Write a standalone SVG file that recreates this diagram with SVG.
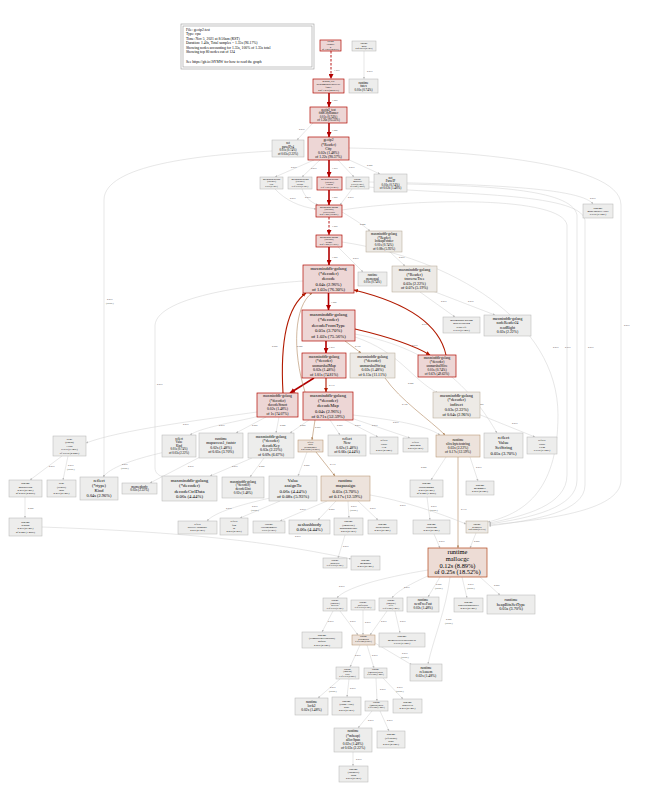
<svg xmlns="http://www.w3.org/2000/svg" width="650" height="792" viewBox="0 0 650 792">
<style>
text{font-family:"Liberation Serif","Times New Roman",serif;fill:#000;text-anchor:middle}
.hd text,.hd{text-anchor:start}
.r{fill:#edd6d5;stroke:#b20a00;stroke-width:0.7}
.o{fill:#eddcd5;stroke:#b2461a;stroke-width:0.7}
.t{fill:#ede3dc;stroke:#b28c66;stroke-width:0.5}
.u{fill:#edeae6;stroke:#b2a58f;stroke-width:0.5}
.g{fill:#ededec;stroke:#b4b4b2;stroke-width:0.5}
.eh{stroke:#b20000;stroke-width:1.6;fill:none}
.er{stroke:#b21a00;stroke-width:1.1;fill:none}
.et{stroke:#b2885f;stroke-width:0.6;fill:none}
.eg{stroke:#c9c9c9;stroke-width:0.45;fill:none}
.d{stroke-dasharray:2.5,1.5;stroke-width:0.9}
.l{font-size:2.6px;fill:#555;text-anchor:start}
</style>
<defs>
<marker id="ah" viewBox="0 0 10 10" refX="10" refY="5" markerUnits="userSpaceOnUse" markerWidth="5" markerHeight="5" orient="auto"><path d="M0,0L10,5L0,10z" fill="#b20000"/></marker>
<marker id="ar" viewBox="0 0 10 10" refX="10" refY="5" markerUnits="userSpaceOnUse" markerWidth="4" markerHeight="4" orient="auto"><path d="M0,0L10,5L0,10z" fill="#b21a00"/></marker>
<marker id="at" viewBox="0 0 10 10" refX="10" refY="5" markerUnits="userSpaceOnUse" markerWidth="2.6" markerHeight="2.6" orient="auto"><path d="M0,0L10,5L0,10z" fill="#b2885f"/></marker>
<marker id="ag" viewBox="0 0 10 10" refX="10" refY="5" markerUnits="userSpaceOnUse" markerWidth="2.2" markerHeight="2.2" orient="auto"><path d="M0,0L10,5L0,10z" fill="#bbbbbb"/></marker>
</defs>
<rect width="650" height="792" fill="#fff"/>

<g id="legend" class="hd">
<rect x="181" y="24" width="133" height="45" fill="#fff" stroke="#9a9a9a" stroke-width="0.6"/>
<rect x="183" y="26" width="129" height="41" fill="none" stroke="#9a9a9a" stroke-width="0.6"/>
<text font-size="3.7" style="text-anchor:start"><tspan x="186" y="30.5">File: geoip2.test</tspan><tspan x="186" y="35">Type: cpu</tspan><tspan x="186" y="39.6">Time: Nov 5, 2021 at 8:50am (KST)</tspan><tspan x="186" y="44.2">Duration: 1.40s, Total samples = 1.35s (96.17%)</tspan><tspan x="186" y="48.8">Showing nodes accounting for 1.35s, 100% of 1.35s total</tspan><tspan x="186" y="53.4">Showing top 80 nodes out of 124</tspan><tspan x="186" y="62.6">See https://git.io/JfYMW for how to read the graph</tspan></text>
</g>

<g id="connectors">
<path class="eh d" d="M331,51L331,79" marker-end="url(#ah)"/><text class="l" x="334" y="71">1.27s</text>
<path class="eg" d="M364,51L364,79" marker-end="url(#ag)"/><text class="l" x="367" y="72">0.01s</text>
<path class="eh" d="M329,93L329,107" marker-end="url(#ah)"/><text class="l" x="332" y="101">1.26s</text>
<path class="eh" d="M329,123L329,137" marker-end="url(#ah)"/><text class="l" x="332" y="131">1.22s</text>
<path class="eg" d="M313,123L297,140" marker-end="url(#ag)"/><text class="l" x="299" y="130">0.03s</text>
<path class="eg" d="M314,160L275,177" marker-end="url(#ag)"/><text class="l" x="291" y="168">0.01s</text>
<path class="eg" d="M320,160L302,177" marker-end="url(#ag)"/><text class="l" x="311" y="169">0.01s</text>
<path class="eh" d="M329,160L329,177" marker-end="url(#ah)"/><text class="l" x="332" y="169">1.07s</text>
<path class="eg" d="M338,160L354,177" marker-end="url(#ag)"/><text class="l" x="349" y="168">0.01s</text>
<path class="eg" d="M345,158L380,174" marker-end="url(#ag)"/><text class="l" x="367" y="166">0.02s</text>
<path class="eg" d="M349,148C450,150 621,160 621,205L621,480C621,512 540,520 489,525" marker-end="url(#ag)"/><text class="l" x="624" y="326">0.01s</text>
<path class="eg" d="M407,184C480,186 572,188 577,215L577,480C577,508 530,518 489,524" marker-end="url(#ag)"/><text class="l" x="565" y="348">0.01s</text>
<path class="eg" d="M369,187C450,195 580,192 585,220L585,485C585,512 535,520 489,526" marker-end="url(#ag)"/><text class="l" x="588" y="348">0.01s</text>
<path class="eg" d="M369,182C460,184 580,186 593,204" marker-end="url(#ag)"/><text class="l" x="590" y="199">0.01s</text>
<path class="eg" d="M342,210C420,198 562,196 567,225L567,475C567,505 525,516 489,523" marker-end="url(#ag)"/><text class="l" x="553" y="348">0.01s</text>
<path class="eg" d="M342,242C450,258 558,320 558,415C558,495 520,514 488,522" marker-end="url(#ag)"/>
<path class="eg" d="M275,189C285,200 300,207 316,209" marker-end="url(#ag)"/><text class="l" x="290" y="199">0.01s</text>
<path class="eg" d="M302,189C305,197 310,202 318,205" marker-end="url(#ag)"/><text class="l" x="305" y="198">0.01s</text>
<path class="eh" d="M329,190L329,205" marker-end="url(#ah)"/><text class="l" x="332" y="198">1.05s</text>
<path class="eg" d="M352,189L340,205" marker-end="url(#ag)"/><text class="l" x="348" y="198">0.01s</text>
<path class="eh d" d="M329,217L329,235" marker-end="url(#ah)"/><text class="l" x="332" y="227">1.05s</text>
<path class="eg" d="M342,212C352,218 362,224 370,231" marker-end="url(#ag)"/><text class="l" x="360" y="225">0.04s</text>
<path class="eh" d="M329,247L329,265" marker-end="url(#ah)"/><text class="l" x="332" y="258">1.05s</text>
<path class="eg" d="M338,247L363,272" marker-end="url(#ag)"/><text class="l" x="353" y="259">0.01s</text>
<path class="eg" d="M390,252L405,266" marker-end="url(#ag)"/><text class="l" x="399" y="258">0.07s</text>
<path class="eg" d="M420,292L455,317" marker-end="url(#ag)"/><text class="l" x="441" y="302">0.01s</text>
<path class="eg" d="M430,290L495,315" marker-end="url(#ag)"/><text class="l" x="468" y="302">0.03s</text>
<path class="eh" d="M328.5,293L328.5,310" marker-end="url(#ah)"/><text class="l" x="331" y="303">1.02s</text>
<path class="eh" d="M326,341L326,353" marker-end="url(#ah)"/><text class="l" x="329" y="348">1.01s</text>
<path class="et" d="M345,341L361,353" marker-end="url(#at)"/><text class="l" x="355" y="347">0.15s</text>
<path class="er" d="M355,329C385,336 412,344 430,355" marker-end="url(#ar)"/><text class="l" x="412" y="346">0.67s</text>
<path class="er" d="M446,355C438,318 395,300 354,290" marker-end="url(#ar)"/><text class="l" x="422" y="325">0.67s</text>
<path class="eh" d="M314,378L290,393" marker-end="url(#ah)"/>
<path class="er" d="M326,378L326,392" marker-end="url(#ar)"/><text class="l" x="329" y="386">0.71s</text>
<path class="er" d="M283,393C280,340 288,306 306,293" marker-end="url(#ar)"/><text class="l" x="272" y="347">0.98s</text>
<path class="et" d="M305,392C292,350 294,306 312,293" marker-end="url(#at)"/><text class="l" x="297" y="347">0.20s</text>
<path class="eg" d="M303,281C260,284 158,295 155,325L155,468C155,473 159,476 164,477" marker-end="url(#ag)"/><text class="l" x="157" y="385">0.01s</text>
<path class="eg" d="M272,151C200,155 104,165 104,200L104,477" marker-end="url(#ag)"/><text class="l" x="107" y="300">0.01s</text><text class="l" x="106" y="303.5">(inline)</text>
<path class="eg" d="M257,412C200,420 120,430 86,443" marker-end="url(#ag)"/><text class="l" x="183" y="425">0.01s</text>
<path class="eg" d="M260,416C230,423 200,428 190,435" marker-end="url(#ag)"/><text class="l" x="219" y="426">0.01s</text>
<path class="eg" d="M266,417L236,433" marker-end="url(#ag)"/><text class="l" x="252" y="426">0.05s</text>
<path class="eg" d="M279,417L276,433" marker-end="url(#ag)"/><text class="l" x="280" y="426">0.04s</text>
<path class="eg" d="M309,420L290,433" marker-end="url(#ag)"/><text class="l" x="300" y="426">0.05s</text>
<path class="et" d="M315,420L312,440" marker-end="url(#at)"/><text class="l" x="315" y="428">0.25s</text>
<path class="eg" d="M330,420L340,435" marker-end="url(#ag)"/><text class="l" x="337" y="426">0.06s</text>
<path class="eg" d="M345,420L378,437" marker-end="url(#ag)"/><text class="l" x="355" y="426">0.01s</text>
<path class="eg" d="M351,418L410,438" marker-end="url(#ag)"/><text class="l" x="372" y="426">0.01s</text>
<path class="eg" d="M353,415C395,420 425,425 440,435" marker-end="url(#ag)"/><text class="l" x="393" y="423">0.01s</text>
<path class="et" d="M385,378C400,400 430,420 445,435" marker-end="url(#at)"/><text class="l" x="402" y="405">0.12s</text>
<path class="eg" d="M355,337C400,352 412,380 438,393" marker-end="url(#ag)"/><text class="l" x="408" y="384">0.04s</text>
<path class="eg" d="M355,334C440,350 475,395 497,433" marker-end="url(#ag)"/><text class="l" x="478" y="405">0.05s</text>
<path class="eg" d="M478,414L535,437" marker-end="url(#ag)"/><text class="l" x="512" y="424">0.01s</text>
<path class="eg" d="M62,456L30,480" marker-end="url(#ag)"/><text class="l" x="49" y="467">0.01s</text>
<path class="eg" d="M68,456L63,480" marker-end="url(#ag)"/><text class="l" x="68" y="466">0.01s</text><text class="l" x="67" y="469.5">(inline)</text>
<path class="eg" d="M165,452C130,460 110,468 103,477" marker-end="url(#ag)"/><text class="l" x="122" y="465">0.01s</text><text class="l" x="121" y="468.5">(inline)</text>
<path class="eg" d="M202,456L150,483" marker-end="url(#ag)"/><text class="l" x="188" y="467">0.03s</text>
<path class="eg" d="M252,458L210,476" marker-end="url(#ag)"/><text class="l" x="232" y="467">0.01s</text>
<path class="eg" d="M264,458L250,477" marker-end="url(#ag)"/><text class="l" x="259" y="467">0.02s</text>
<path class="eg" d="M307,452L298,476" marker-end="url(#ag)"/><text class="l" x="304" y="466">0.08s</text>
<path class="et" d="M316,452L335,476" marker-end="url(#at)"/><text class="l" x="330" y="465">0.17s</text>
<path class="eg" d="M446,457L431,480" marker-end="url(#ag)"/><text class="l" x="421" y="468">0.02s</text>
<path class="eg" d="M470,457L478,481" marker-end="url(#ag)"/><text class="l" x="476" y="468">0.01s</text>
<path class="et" d="M458,457L458,548" marker-end="url(#at)"/><text class="l" x="461" y="510">0.17s</text>
<path class="eg" d="M25,497L25,518" marker-end="url(#ag)"/><text class="l" x="28" y="509">0.02s</text>
<path class="eg" d="M42,527C150,531 250,537 351,559" marker-end="url(#ag)"/><text class="l" x="295" y="537">0.01s</text>
<path class="eg" d="M270,498C240,505 215,512 207,521" marker-end="url(#ag)"/><text class="l" x="226" y="509">0.01s</text>
<path class="eg" d="M280,501L240,518" marker-end="url(#ag)"/><text class="l" x="252" y="507">0.01s</text><text class="l" x="251" y="510.5">(inline)</text>
<path class="eg" d="M327,501L280,521" marker-end="url(#ag)"/><text class="l" x="300" y="510">0.01s</text>
<path class="eg" d="M336,501L318,520" marker-end="url(#ag)"/><text class="l" x="329" y="510">0.06s</text>
<path class="eg" d="M348,501L349,518" marker-end="url(#ag)"/><text class="l" x="351" y="507">0.01s</text><text class="l" x="350" y="510.5">(inline)</text>
<path class="eg" d="M358,501L378,520" marker-end="url(#ag)"/><text class="l" x="370" y="509">0.01s</text>
<path class="eg" d="M370,495C400,500 440,513 466,524" marker-end="url(#ag)"/><text class="l" x="400" y="506">0.01s</text>
<path class="eg" d="M345,535L338,558" marker-end="url(#ag)"/><text class="l" x="343" y="547">0.01s</text>
<path class="eg" d="M427,497L430,520" marker-end="url(#ag)"/><text class="l" x="431" y="507">0.01s</text><text class="l" x="430" y="510.5">(inline)</text>
<path class="eg" d="M434,534L440,548" marker-end="url(#ag)"/><text class="l" x="439" y="542">0.01s</text>
<path class="eg" d="M476,533L470,548" marker-end="url(#ag)"/><text class="l" x="474" y="542">0.08s</text>
<path class="eg" d="M440,577L428,597" marker-end="url(#ag)"/><text class="l" x="436" y="585">0.02s</text><text class="l" x="435" y="588.5">(inline)</text>
<path class="eg" d="M462,577L467,598" marker-end="url(#ag)"/><text class="l" x="468" y="585">0.01s</text><text class="l" x="467" y="588.5">(inline)</text>
<path class="eg" d="M480,577L500,595" marker-end="url(#ag)"/><text class="l" x="494" y="586">0.05s</text>
<path class="eg" d="M450,577C446,610 433,640 428,664" marker-end="url(#ag)"/><text class="l" x="446" y="620">0.02s</text><text class="l" x="445" y="623.5">(inline)</text>
<path class="eg" d="M428,570C380,578 345,588 337,598" marker-end="url(#ag)"/><text class="l" x="339" y="587">0.01s</text>
<path class="eg" d="M430,575C410,584 396,592 392,598" marker-end="url(#ag)"/><text class="l" x="404" y="588">0.01s</text>
<path class="eg" d="M333,611L322,632" marker-end="url(#ag)"/><text class="l" x="328" y="622">0.01s</text>
<path class="eg" d="M340,611L358,635" marker-end="url(#ag)"/><text class="l" x="350" y="622">0.01s</text>
<path class="eg" d="M363,610L363,635" marker-end="url(#ag)"/><text class="l" x="365" y="623">0.01s</text>
<path class="eg" d="M387,611L370,635" marker-end="url(#ag)"/><text class="l" x="381" y="622">0.01s</text>
<path class="eg" d="M395,611L400,633" marker-end="url(#ag)"/><text class="l" x="400" y="622">0.01s</text>
<path class="eg" d="M360,645L350,667" marker-end="url(#ag)"/><text class="l" x="355" y="656">0.01s</text>
<path class="eg" d="M367,645L374,668" marker-end="url(#ag)"/><text class="l" x="372" y="656">0.01s</text>
<path class="eg" d="M375,643L412,665" marker-end="url(#ag)"/><text class="l" x="402" y="654">0.01s</text><text class="l" x="401" y="657.5">(inline)</text>
<path class="eg" d="M340,679L318,698" marker-end="url(#ag)"/><text class="l" x="330" y="688">0.01s</text><text class="l" x="329" y="691.5">(inline)</text>
<path class="eg" d="M349,679L347,697" marker-end="url(#ag)"/><text class="l" x="350" y="689">0.01s</text>
<path class="eg" d="M376,678L377,701" marker-end="url(#ag)"/><text class="l" x="380" y="690">0.01s</text>
<path class="eg" d="M383,678L403,699" marker-end="url(#ag)"/><text class="l" x="397" y="688">0.01s</text><text class="l" x="396" y="691.5">(inline)</text>
<path class="eg" d="M372,711L358,728" marker-end="url(#ag)"/><text class="l" x="368" y="721">0.01s</text>
<path class="eg" d="M380,711L389,731" marker-end="url(#ag)"/><text class="l" x="387" y="721">0.01s</text>
<path class="eg" d="M353,752L353,766" marker-end="url(#ag)"/><text class="l" x="356" y="760">0.01s</text>
</g>

<g id="n_trunner"><rect class="r" x="320" y="40" width="21" height="11"/><text font-size="2.3"><tspan x="330.5" y="42.4">testing</tspan><tspan x="330.5" y="45">tRunner</tspan><tspan x="330.5" y="47.6">0</tspan><tspan x="330.5" y="50.2">of 1.27s (94.07%)</tspan></text></g>
<g id="n_main"><rect class="g" x="352" y="41" width="24" height="10"/><text font-size="2.3"><tspan x="364" y="44.2">runtime</tspan><tspan x="364" y="46.8">main</tspan><tspan x="364" y="49.4">0 of 0.01s (0.74%)</tspan></text></g>
<g id="n_bench"><rect class="r" x="313" y="79" width="31" height="14"/><text font-size="2.6"><tspan x="328.5" y="82.4">geoip2_test</tspan><tspan x="328.5" y="85.4">BenchmarkReaderCity</tspan><tspan x="328.5" y="88.4">func1</tspan><tspan x="328.5" y="91.4">0 of 1.27s (94.07%)</tspan></text></g>
<g id="n_futex"><rect class="g" x="349" y="79" width="29" height="14"/><text font-size="3.2"><tspan x="363.5" y="83.5">runtime</tspan><tspan x="363.5" y="87.1">futex</tspan><tspan x="363.5" y="90.7">0.01s (0.74%)</tspan></text></g>
<g id="n_runner"><rect class="r" x="310" y="107" width="37" height="16"/><text font-size="3.1"><tspan x="328.5" y="110.8">geoip2_test</tspan><tspan x="328.5" y="114.3">findCityRunner</tspan><tspan x="328.5" y="117.8">0.01s (0.74%)</tspan><tspan x="328.5" y="121.3">of 1.26s (93.33%)</tspan></text></g>
<g id="n_city"><rect class="r" x="308" y="137" width="41" height="23"/><text font-size="3.7"><tspan x="328.5" y="141.4">geoip2</tspan><tspan x="328.5" y="145.6">(*Reader)</tspan><tspan x="328.5" y="149.8">City</tspan><tspan x="328.5" y="154">0.02s (1.48%)</tspan><tspan x="328.5" y="158.2">of 1.22s (90.37%)</tspan></text></g>
<g id="n_ipv4"><rect class="g" x="272" y="140" width="32" height="17"/><text font-size="3"><tspan x="288" y="144.3">net</tspan><tspan x="288" y="147.8">parseIPv4</tspan><tspan x="288" y="151.3">0.01s (0.74%)</tspan><tspan x="288" y="154.8">of 0.03s (2.22%)</tspan></text></g>
<g id="n_cidr"><rect class="g" x="260" y="177" width="23" height="12"/><text font-size="2.2"><tspan x="271.5" y="179.6">maxminddb-golang</tspan><tspan x="271.5" y="182.2">(*Reader)</tspan><tspan x="271.5" y="184.8">cidr</tspan><tspan x="271.5" y="187.4">0.01s (0.74%)</tspan></text></g>
<g id="n_rdec"><rect class="g" x="288" y="177" width="24" height="12"/><text font-size="2.2"><tspan x="300" y="179.6">maxminddb-golang</tspan><tspan x="300" y="182.2">(*Reader)</tspan><tspan x="300" y="184.8">Decode</tspan><tspan x="300" y="187.4">0 of 0.01s (0.74%)</tspan></text></g>
<g id="n_lookup"><rect class="r" x="317" y="177" width="25" height="13"/><text font-size="2.2"><tspan x="329.5" y="180.1">maxminddb-golang</tspan><tspan x="329.5" y="182.7">(*Reader)</tspan><tspan x="329.5" y="185.3">Lookup</tspan><tspan x="329.5" y="187.9">0 of 1.07s (79.26%)</tspan></text></g>
<g id="n_makeslice"><rect class="g" x="346" y="177" width="23" height="12"/><text font-size="2.2"><tspan x="357.5" y="179.6">runtime</tspan><tspan x="357.5" y="182.2">makeslice</tspan><tspan x="357.5" y="184.8">0.01s (0.74%)</tspan><tspan x="357.5" y="187.4">of 0.02s (1.48%)</tspan></text></g>
<g id="n_parseip"><rect class="g" x="374" y="174" width="33" height="18"/><text font-size="3.2"><tspan x="390.5" y="178.5">net</tspan><tspan x="390.5" y="182.1">ParseIP</tspan><tspan x="390.5" y="185.7">0.01s (0.74%)</tspan><tspan x="390.5" y="189.3">of 0.02s (1.48%)</tspan></text></g>
<g id="n_retrieve"><rect class="r" x="316" y="205" width="26" height="12"/><text font-size="2.3"><tspan x="329" y="207.6">maxminddb-golang</tspan><tspan x="329" y="210.2">(*Reader)</tspan><tspan x="329" y="212.8">retrieveData</tspan><tspan x="329" y="215.4">0 of 1.06s (78.52%)</tspan></text></g>
<g id="n_rdecode"><rect class="r" x="316" y="235" width="26" height="12"/><text font-size="2.3"><tspan x="329" y="237.6">maxminddb-golang</tspan><tspan x="329" y="240.2">(*Reader)</tspan><tspan x="329" y="242.8">decode</tspan><tspan x="329" y="245.4">0 of 1.05s (77.78%)</tspan></text></g>
<g id="n_lptr"><rect class="u" x="366" y="231" width="36" height="21"/><text font-size="3.3"><tspan x="384" y="234.8">maxminddb-golang</tspan><tspan x="384" y="238.6">(*Reader)</tspan><tspan x="384" y="242.4">lookupPointer</tspan><tspan x="384" y="246.2">0.01s (0.74%)</tspan><tspan x="384" y="250">of 0.08s (5.93%)</tspan></text></g>
<g id="n_memequal"><rect class="g" x="358" y="272" width="29" height="14"/><text font-size="3.1"><tspan x="372.5" y="276.4">runtime</tspan><tspan x="372.5" y="279.9">memequal</tspan><tspan x="372.5" y="283.4">0.01s (0.74%)</tspan></text></g>
<g id="n_traverse"><rect class="u" x="392" y="266" width="45" height="26"/><text font-size="4"><tspan x="414.5" y="270.9">maxminddb-golang</tspan><tspan x="414.5" y="275.5">(*Reader)</tspan><tspan x="414.5" y="280.1">traverseTree</tspan><tspan x="414.5" y="284.7">0.03s (2.22%)</tspan><tspan x="414.5" y="289.3">of 0.07s (5.19%)</tspan></text></g>
<g id="n_readleft"><rect class="g" x="443" y="317" width="37" height="16"/><text font-size="2.9"><tspan x="461.5" y="320.7">maxminddb-golang</tspan><tspan x="461.5" y="324.1">nodeReader24</tspan><tspan x="461.5" y="327.5">readLeft</tspan><tspan x="461.5" y="330.9">0.01s (0.74%)</tspan></text></g>
<g id="n_readright"><rect class="g" x="484" y="315" width="47" height="21"/><text font-size="3.8"><tspan x="507.5" y="320.1">maxminddb-golang</tspan><tspan x="507.5" y="324.4">nodeReader24</tspan><tspan x="507.5" y="328.7">readRight</tspan><tspan x="507.5" y="333">0.03s (2.22%)</tspan></text></g>
<g id="n_mkbucket"><rect class="g" x="583" y="204" width="30" height="14"/><text font-size="2.9"><tspan x="598" y="208.5">runtime</tspan><tspan x="598" y="211.8">makeBucketArray</tspan><tspan x="598" y="215.1">0.01s (0.74%)</tspan></text></g>
<g id="n_decode"><rect class="r" x="303" y="265" width="51" height="28"/><text font-size="4.6"><tspan x="328.5" y="269.9">maxminddb-golang</tspan><tspan x="328.5" y="275.1">(*decoder)</tspan><tspan x="328.5" y="280.3">decode</tspan><tspan x="328.5" y="285.5">0.04s (2.96%)</tspan><tspan x="328.5" y="290.7">of 1.03s (76.30%)</tspan></text></g>
<g id="n_dft"><rect class="r" x="302" y="310" width="53" height="31"/><text font-size="4.8"><tspan x="328.5" y="315.6">maxminddb-golang</tspan><tspan x="328.5" y="321.2">(*decoder)</tspan><tspan x="328.5" y="326.8">decodeFromType</tspan><tspan x="328.5" y="332.4">0.05s (3.70%)</tspan><tspan x="328.5" y="338">of 1.02s (75.56%)</tspan></text></g>
<g id="n_umap"><rect class="r" x="302" y="353" width="44" height="25"/><text font-size="3.9"><tspan x="324" y="357.6">maxminddb-golang</tspan><tspan x="324" y="362.1">(*decoder)</tspan><tspan x="324" y="366.6">unmarshalMap</tspan><tspan x="324" y="371.1">0.02s (1.48%)</tspan><tspan x="324" y="375.6">of 1.01s (74.81%)</tspan></text></g>
<g id="n_ustr"><rect class="u" x="350" y="353" width="45" height="25"/><text font-size="3.9"><tspan x="372.5" y="357.6">maxminddb-golang</tspan><tspan x="372.5" y="362.1">(*decoder)</tspan><tspan x="372.5" y="366.6">unmarshalString</tspan><tspan x="372.5" y="371.1">0.02s (1.48%)</tspan><tspan x="372.5" y="375.6">of 0.15s (11.11%)</tspan></text></g>
<g id="n_uslice"><rect class="r" x="418" y="355" width="38" height="22"/><text font-size="3.4"><tspan x="437" y="359.1">maxminddb-golang</tspan><tspan x="437" y="363">(*decoder)</tspan><tspan x="437" y="366.9">unmarshalSlice</tspan><tspan x="437" y="370.8">0.01s (0.74%)</tspan><tspan x="437" y="374.7">of 0.67s (49.63%)</tspan></text></g>
<g id="n_dstruct"><rect class="r" x="257" y="393" width="41" height="24"/><text font-size="3.7"><tspan x="277.5" y="397.4">maxminddb-golang</tspan><tspan x="277.5" y="401.7">(*decoder)</tspan><tspan x="277.5" y="406">decodeStruct</tspan><tspan x="277.5" y="410.3">0.02s (1.48%)</tspan><tspan x="277.5" y="414.6">of 1s (74.07%)</tspan></text></g>
<g id="n_dmap"><rect class="r" x="303" y="392" width="50" height="28"/><text font-size="4.6"><tspan x="328" y="396.9">maxminddb-golang</tspan><tspan x="328" y="402.1">(*decoder)</tspan><tspan x="328" y="407.3">decodeMap</tspan><tspan x="328" y="412.5">0.04s (2.96%)</tspan><tspan x="328" y="417.7">of 0.71s (52.59%)</tspan></text></g>
<g id="n_indirect"><rect class="u" x="433" y="392" width="47" height="26"/><text font-size="4.2"><tspan x="456.5" y="396.6">maxminddb-golang</tspan><tspan x="456.5" y="401.4">(*decoder)</tspan><tspan x="456.5" y="406.2">indirect</tspan><tspan x="456.5" y="411">0.03s (2.22%)</tspan><tspan x="456.5" y="415.8">of 0.04s (2.96%)</tspan></text></g>
<g id="n_syncload"><rect class="g" x="53" y="436" width="33" height="20"/><text font-size="2.9"><tspan x="69.5" y="440">sync</tspan><tspan x="69.5" y="443.4">(*Map)</tspan><tspan x="69.5" y="446.8">Load</tspan><tspan x="69.5" y="450.2">0.01s (0.74%)</tspan><tspan x="69.5" y="453.6">of 0.03s (2.22%)</tspan></text></g>
<g id="n_vkind"><rect class="g" x="162" y="435" width="34" height="22"/><text font-size="3"><tspan x="179" y="439.8">reflect</tspan><tspan x="179" y="443.3">Value</tspan><tspan x="179" y="446.8">Kind</tspan><tspan x="179" y="450.3">0.01s (0.74%)</tspan><tspan x="179" y="453.8">of 0.03s (2.22%)</tspan></text></g>
<g id="n_mapacc1"><rect class="g" x="199" y="433" width="44" height="25"/><text font-size="3.8"><tspan x="221" y="439.7">runtime</tspan><tspan x="221" y="444.1">mapaccess1_faststr</tspan><tspan x="221" y="448.5">0.02s (1.48%)</tspan><tspan x="221" y="452.9">of 0.05s (3.70%)</tspan></text></g>
<g id="n_dkey"><rect class="g" x="248" y="433" width="46" height="25"/><text font-size="3.9"><tspan x="271" y="437.6">maxminddb-golang</tspan><tspan x="271" y="442.1">(*decoder)</tspan><tspan x="271" y="446.6">decodeKey</tspan><tspan x="271" y="451.1">0.03s (2.22%)</tspan><tspan x="271" y="455.6">of 0.09s (6.67%)</tspan></text></g>
<g id="n_setmap"><rect class="t" x="298" y="440" width="25" height="12"/><text font-size="2.3"><tspan x="310.5" y="442.6">reflect</tspan><tspan x="310.5" y="445.2">Value</tspan><tspan x="310.5" y="447.8">SetMapIndex</tspan><tspan x="310.5" y="450.4">0 of 0.25s (18.52%)</tspan></text></g>
<g id="n_new"><rect class="g" x="328" y="435" width="38" height="21"/><text font-size="3.8"><tspan x="347" y="439.7">reflect</tspan><tspan x="347" y="444.1">New</tspan><tspan x="347" y="448.5">0.02s (1.48%)</tspan><tspan x="347" y="452.9">of 0.06s (4.44%)</tspan></text></g>
<g id="n_vlen"><rect class="g" x="370" y="437" width="28" height="17"/><text font-size="2.8"><tspan x="384" y="441.3">reflect</tspan><tspan x="384" y="444.6">Value</tspan><tspan x="384" y="447.9">Len</tspan><tspan x="384" y="451.2">0.01s (0.74%)</tspan></text></g>
<g id="n_makemap"><rect class="g" x="403" y="438" width="25" height="14"/><text font-size="2.7"><tspan x="415.5" y="442.6">reflect</tspan><tspan x="415.5" y="445.7">makemap</tspan><tspan x="415.5" y="448.8">0.01s (0.74%)</tspan></text></g>
<g id="n_s2s"><rect class="t" x="436" y="435" width="44" height="22"/><text font-size="3.6"><tspan x="458" y="440.5">runtime</tspan><tspan x="458" y="444.7">slicebytetostring</tspan><tspan x="458" y="448.9">0.03s (2.22%)</tspan><tspan x="458" y="453.1">of 0.17s (12.59%)</tspan></text></g>
<g id="n_setstr"><rect class="g" x="484" y="433" width="39" height="25"/><text font-size="4.6"><tspan x="503.5" y="438.8">reflect</tspan><tspan x="503.5" y="444.1">Value</tspan><tspan x="503.5" y="449.4">SetString</tspan><tspan x="503.5" y="454.7">0.05s (3.70%)</tspan></text></g>
<g id="n_velem"><rect class="g" x="527" y="437" width="30" height="17"/><text font-size="2.9"><tspan x="542" y="441.2">reflect</tspan><tspan x="542" y="444.6">Value</tspan><tspan x="542" y="448">Elem</tspan><tspan x="542" y="451.4">0.01s (0.74%)</tspan></text></g>
<g id="n_mapacc2"><rect class="g" x="9" y="480" width="33" height="17"/><text font-size="2.8"><tspan x="25.5" y="484.3">runtime</tspan><tspan x="25.5" y="487.6">mapaccess2</tspan><tspan x="25.5" y="490.9">0.01s (0.74%)</tspan><tspan x="25.5" y="494.2">of 0.03s (2.22%)</tspan></text></g>
<g id="n_entry"><rect class="g" x="47" y="480" width="29" height="17"/><text font-size="2.8"><tspan x="61.5" y="484.3">sync</tspan><tspan x="61.5" y="487.6">(*entry)</tspan><tspan x="61.5" y="490.9">load</tspan><tspan x="61.5" y="494.2">0.01s (0.74%)</tspan></text></g>
<g id="n_rkind"><rect class="g" x="80" y="477" width="38" height="23"/><text font-size="4.4"><tspan x="99" y="481.8">reflect</tspan><tspan x="99" y="486.9">(*rtype)</tspan><tspan x="99" y="492">Kind</tspan><tspan x="99" y="497.1">0.04s (2.96%)</tspan></text></g>
<g id="n_memeq"><rect class="g" x="122" y="483" width="35" height="11"/><text font-size="3.3"><tspan x="139.5" y="487.5">memeqbody</tspan><tspan x="139.5" y="491.3">0.03s (2.22%)</tspan></text></g>
<g id="n_ctrl"><rect class="g" x="162" y="476" width="55" height="25"/><text font-size="4.8"><tspan x="189.5" y="481.6">maxminddb-golang</tspan><tspan x="189.5" y="487.1">(*decoder)</tspan><tspan x="189.5" y="492.6">decodeCtrlData</tspan><tspan x="189.5" y="498.1">0.06s (4.44%)</tspan></text></g>
<g id="n_duint"><rect class="g" x="222" y="477" width="42" height="21"/><text font-size="3.3"><tspan x="243" y="482.5">maxminddb-golang</tspan><tspan x="243" y="486.4">(*decoder)</tspan><tspan x="243" y="490.3">decodeUint</tspan><tspan x="243" y="494.2">0.02s (1.48%)</tspan></text></g>
<g id="n_assign"><rect class="g" x="269" y="476" width="48" height="25"/><text font-size="4.8"><tspan x="293" y="481.6">Value</tspan><tspan x="293" y="487.1">assignTo</tspan><tspan x="293" y="492.6">0.06s (4.44%)</tspan><tspan x="293" y="498.1">of 0.08s (5.93%)</tspan></text></g>
<g id="n_mapassign"><rect class="t" x="321" y="476" width="49" height="25"/><text font-size="4.6"><tspan x="345.5" y="481.9">runtime</tspan><tspan x="345.5" y="487.2">mapassign</tspan><tspan x="345.5" y="492.5">0.05s (3.70%)</tspan><tspan x="345.5" y="497.8">of 0.17s (12.59%)</tspan></text></g>
<g id="n_rstrtmp"><rect class="g" x="410" y="480" width="33" height="17"/><text font-size="2.8"><tspan x="426.5" y="484.3">runtime</tspan><tspan x="426.5" y="487.6">rawstringtmp</tspan><tspan x="426.5" y="490.9">0.01s (0.74%)</tspan><tspan x="426.5" y="494.2">of 0.02s (1.48%)</tspan></text></g>
<g id="n_memmove"><rect class="g" x="466" y="481" width="28" height="14"/><text font-size="2.8"><tspan x="480" y="485.6">runtime</tspan><tspan x="480" y="488.8">memmove</tspan><tspan x="480" y="492">0.01s (0.74%)</tspan></text></g>
<g id="n_strhash"><rect class="g" x="9" y="518" width="33" height="18"/><text font-size="2.8"><tspan x="25.5" y="522.8">runtime</tspan><tspan x="25.5" y="526.1">strhash</tspan><tspan x="25.5" y="529.4">0.01s (0.74%)</tspan><tspan x="25.5" y="532.7">of 0.02s (1.48%)</tspan></text></g>
<g id="n_dassign"><rect class="g" x="178" y="521" width="39" height="13"/><text font-size="2.6"><tspan x="197.5" y="525.2">reflect</tspan><tspan x="197.5" y="528.2">directlyAssignable</tspan><tspan x="197.5" y="531.2">0.01s (0.74%)</tspan></text></g>
<g id="n_flagro"><rect class="g" x="220" y="518" width="28" height="17"/><text font-size="2.7"><tspan x="234" y="522.4">reflect</tspan><tspan x="234" y="525.6">flag</tspan><tspan x="234" y="528.8">ro</tspan><tspan x="234" y="532">0.01s (0.74%)</tspan></text></g>
<g id="n_tmm"><rect class="g" x="253" y="521" width="32" height="12"/><text font-size="2.5"><tspan x="269" y="524.8">runtime</tspan><tspan x="269" y="527.7">typedmemmove</tspan><tspan x="269" y="530.6">0.01s (0.74%)</tspan></text></g>
<g id="n_aes"><rect class="g" x="289" y="520" width="41" height="14"/><text font-size="4.6"><tspan x="309.5" y="525.7">aeshashbody</tspan><tspan x="309.5" y="530.9">0.06s (4.44%)</tspan></text></g>
<g id="n_maptype"><rect class="g" x="334" y="518" width="29" height="17"/><text font-size="2.7"><tspan x="348.5" y="522.3">runtime</tspan><tspan x="348.5" y="525.5">(*maptype)</tspan><tspan x="348.5" y="528.7">hashMightPanic</tspan><tspan x="348.5" y="531.9">0.01s (0.74%)</tspan></text></g>
<g id="n_bmask"><rect class="g" x="368" y="520" width="29" height="14"/><text font-size="2.8"><tspan x="382.5" y="524.6">runtime</tspan><tspan x="382.5" y="527.8">bucketMask</tspan><tspan x="382.5" y="531">0.01s (0.74%)</tspan></text></g>
<g id="n_rawstr"><rect class="g" x="413" y="520" width="37" height="14"/><text font-size="2.8"><tspan x="431.5" y="524.6">runtime</tspan><tspan x="431.5" y="527.8">rawstring</tspan><tspan x="431.5" y="531">0.01s (0.74%)</tspan></text></g>
<g id="n_newobj"><rect class="u" x="466" y="521" width="22" height="12"/><text font-size="2.3"><tspan x="477" y="524.9">runtime</tspan><tspan x="477" y="527.6">newobject</tspan><tspan x="477" y="530.3">0 of 0.08s (5.93%)</tspan></text></g>
<g id="n_hashgrow"><rect class="g" x="323" y="558" width="24" height="10"/><text font-size="2.2"><tspan x="335" y="561.1">runtime</tspan><tspan x="335" y="563.6">hashGrow</tspan><tspan x="335" y="566.1">0 of 0.01s (0.74%)</tspan></text></g>
<g id="n_memhash"><rect class="g" x="351" y="556" width="29" height="14"/><text font-size="2.8"><tspan x="365.5" y="560.6">runtime</tspan><tspan x="365.5" y="563.8">memhash</tspan><tspan x="365.5" y="567">0.01s (0.74%)</tspan></text></g>
<g id="n_malloc"><rect class="o" x="428" y="548" width="59" height="29"/><text font-size="6.4"><tspan x="457.5" y="554.4">runtime</tspan><tspan x="457.5" y="561">mallocgc</tspan><tspan x="457.5" y="567.6">0.12s (8.89%)</tspan><tspan x="457.5" y="574.2">of 0.25s (18.52%)</tspan></text></g>
<g id="n_nextfree"><rect class="g" x="323" y="598" width="24" height="13"/><text font-size="2.2"><tspan x="335" y="601.1">runtime</tspan><tspan x="335" y="603.7">(*mcache)</tspan><tspan x="335" y="606.3">nextFree</tspan><tspan x="335" y="608.9">0 of 0.01s (0.74%)</tspan></text></g>
<g id="n_profalloc"><rect class="g" x="351" y="600" width="24" height="10"/><text font-size="2.2"><tspan x="363" y="603.1">runtime</tspan><tspan x="363" y="605.6">profilealloc</tspan><tspan x="363" y="608.1">0 of 0.01s (0.74%)</tspan></text></g>
<g id="n_refill"><rect class="g" x="379" y="598" width="24" height="13"/><text font-size="2.2"><tspan x="391" y="601.1">runtime</tspan><tspan x="391" y="603.7">(*mcache)</tspan><tspan x="391" y="606.3">refill</tspan><tspan x="391" y="608.9">0 of 0.02s (1.48%)</tspan></text></g>
<g id="n_nff"><rect class="g" x="407" y="597" width="32" height="15"/><text font-size="3.4"><tspan x="423" y="601.4">runtime</tspan><tspan x="423" y="605.3">nextFreeFast</tspan><tspan x="423" y="609.2">0.02s (1.48%)</tspan></text></g>
<g id="n_pbar"><rect class="g" x="454" y="598" width="29" height="14"/><text font-size="2.8"><tspan x="468.5" y="602.6">runtime</tspan><tspan x="468.5" y="605.8">publicationBarrier</tspan><tspan x="468.5" y="609">0.01s (0.74%)</tspan></text></g>
<g id="n_hbst"><rect class="g" x="487" y="595" width="48" height="19"/><text font-size="4.2"><tspan x="511" y="600.7">runtime</tspan><tspan x="511" y="605.5">heapBitsSetType</tspan><tspan x="511" y="610.3">0.05s (3.70%)</tspan></text></g>
<g id="n_chs"><rect class="g" x="302" y="632" width="40" height="16"/><text font-size="2.8"><tspan x="322" y="635.8">runtime</tspan><tspan x="322" y="639.1">(*consistentHeapStats)</tspan><tspan x="322" y="642.4">acquire</tspan><tspan x="322" y="645.7">0.01s (0.74%)</tspan></text></g>
<g id="n_sysstack"><rect class="t" x="352" y="635" width="23" height="10"/><text font-size="2.2"><tspan x="363.5" y="637.1">runtime</tspan><tspan x="363.5" y="639.6">systemstack</tspan><tspan x="363.5" y="642.1">0 of 0.04s (2.96%)</tspan></text></g>
<g id="n_memclr"><rect class="g" x="379" y="633" width="46" height="14"/><text font-size="2.9"><tspan x="402" y="637.4">runtime</tspan><tspan x="402" y="640.8">memclrNoHeapPointers</tspan><tspan x="402" y="644.2">0.01s (0.74%)</tspan></text></g>
<g id="n_releasem"><rect class="g" x="410" y="664" width="32" height="17"/><text font-size="3.6"><tspan x="426" y="669.2">runtime</tspan><tspan x="426" y="673.3">releasem</tspan><tspan x="426" y="677.4">0.02s (1.48%)</tspan></text></g>
<g id="n_mheapalloc"><rect class="g" x="336" y="667" width="23" height="12"/><text font-size="2.2"><tspan x="347.5" y="669.8">runtime</tspan><tspan x="347.5" y="672.3">(*mheap)</tspan><tspan x="347.5" y="674.8">alloc</tspan><tspan x="347.5" y="677.3">0 of 0.03s (2.22%)</tspan></text></g>
<g id="n_mcentral"><rect class="g" x="364" y="668" width="23" height="10"/><text font-size="2.2"><tspan x="375.5" y="670.1">runtime</tspan><tspan x="375.5" y="672.6">(*mcentral).grow</tspan><tspan x="375.5" y="675.1">0 of 0.02s (1.48%)</tspan></text></g>
<g id="n_lock2"><rect class="g" x="295" y="698" width="33" height="17"/><text font-size="3.6"><tspan x="311.5" y="703.2">runtime</tspan><tspan x="311.5" y="707.3">lock2</tspan><tspan x="311.5" y="711.4">0.02s (1.48%)</tspan></text></g>
<g id="n_pagealloc"><rect class="g" x="332" y="697" width="29" height="18"/><text font-size="2.7"><tspan x="346.5" y="701.8">runtime</tspan><tspan x="346.5" y="705">(*pageAlloc)</tspan><tspan x="346.5" y="708.2">alloc</tspan><tspan x="346.5" y="711.4">0.01s (0.74%)</tspan></text></g>
<g id="n_mheapgrow"><rect class="g" x="365" y="701" width="23" height="10"/><text font-size="2.2"><tspan x="376.5" y="703.1">runtime</tspan><tspan x="376.5" y="705.6">(*mheap).grow</tspan><tspan x="376.5" y="708.1">0 of 0.02s (1.48%)</tspan></text></g>
<g id="n_procyield"><rect class="g" x="393" y="699" width="29" height="14"/><text font-size="2.8"><tspan x="407.5" y="702.6">runtime</tspan><tspan x="407.5" y="705.8">procyield</tspan><tspan x="407.5" y="709">0.01s (0.74%)</tspan></text></g>
<g id="n_allocspan"><rect class="g" x="334" y="728" width="38" height="24"/><text font-size="3.6"><tspan x="353" y="732.4">runtime</tspan><tspan x="353" y="736.6">(*mheap)</tspan><tspan x="353" y="740.8">allocSpan</tspan><tspan x="353" y="745">0.02s (1.48%)</tspan><tspan x="353" y="749.2">of 0.03s (2.22%)</tspan></text></g>
<g id="n_fixalloc"><rect class="g" x="377" y="731" width="28" height="17"/><text font-size="2.8"><tspan x="391" y="735.3">runtime</tspan><tspan x="391" y="738.6">(*fixalloc)</tspan><tspan x="391" y="741.9">alloc</tspan><tspan x="391" y="745.2">0.01s (0.74%)</tspan></text></g>
<g id="n_spanset"><rect class="g" x="339" y="766" width="29" height="16"/><text font-size="2.7"><tspan x="353.5" y="769.8">runtime</tspan><tspan x="353.5" y="773">(*spanSet)</tspan><tspan x="353.5" y="776.2">push</tspan><tspan x="353.5" y="779.4">0.01s (0.74%)</tspan></text></g>
</svg>
